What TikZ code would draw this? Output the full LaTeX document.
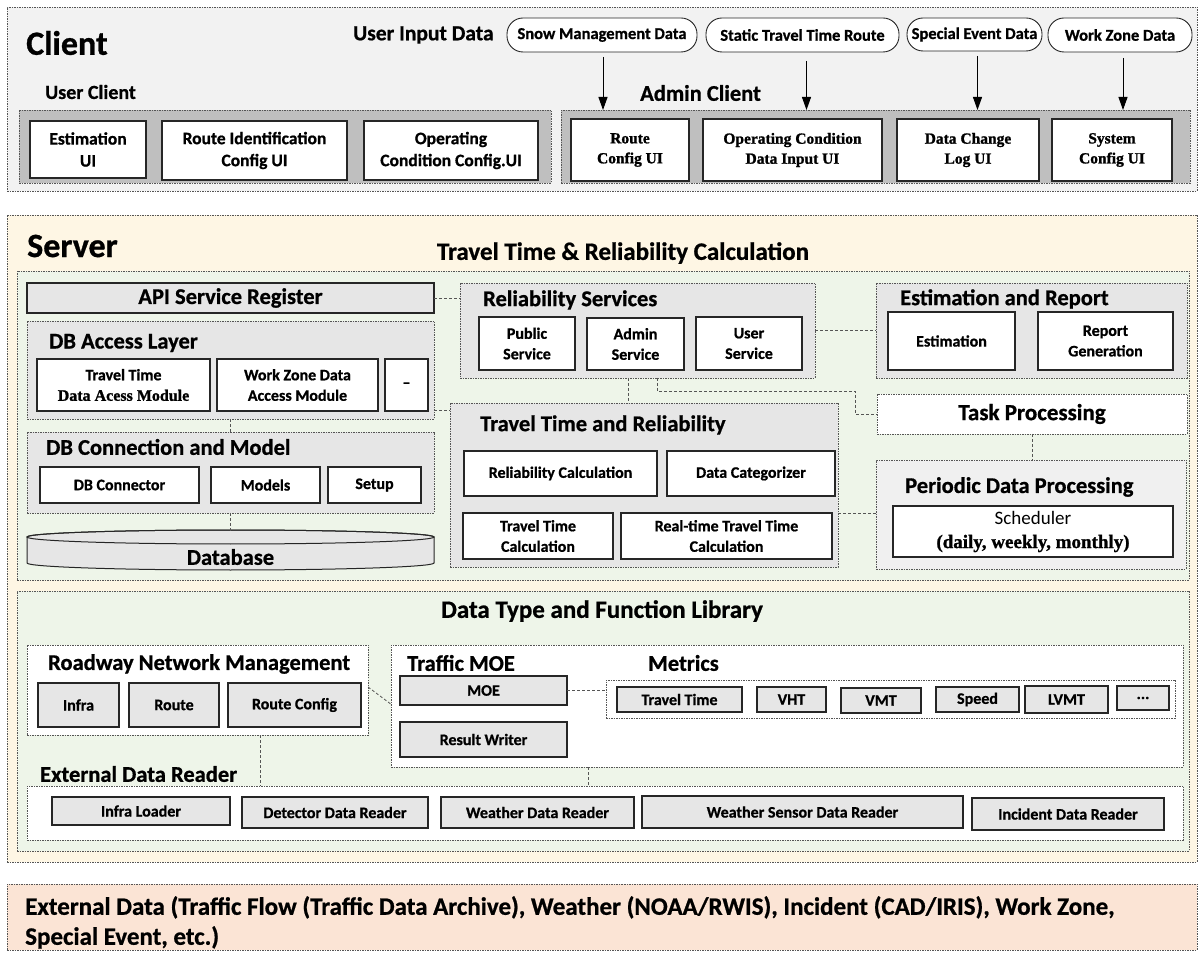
\documentclass[tikz,border=0pt]{standalone}
\usepackage{fontspec}
\setmainfont{Carlito}[BoldFeatures={FakeBold=0.8}]
\newfontfamily\tms{Liberation Serif}[BoldFeatures={FakeBold=1.2}]
\usetikzlibrary{arrows.meta,calc}

\definecolor{clientbg}{HTML}{F2F2F2}
\definecolor{midgray}{HTML}{BFBFBF}
\definecolor{servbg}{HTML}{FEF6E4}
\definecolor{greenbg}{HTML}{EEF5E9}
\definecolor{panel}{HTML}{E6E6E6}
\definecolor{panellt}{HTML}{F0F0F0}
\definecolor{extbg}{HTML}{FBE4D5}
\definecolor{edge}{HTML}{555555}

\newcommand\setfs[2]{\fontsize{#1}{#2}\selectfont}
% \boxat{name}{style}{x1}{y1}{x2}{y2}{text}: a box given by its corners
\newcommand\boxat[7]{%
  \node[#2,minimum width={#5-#3},minimum height={#6-#4}] (#1)
    at ({(#3+#5)/2},{(#4+#6)/2}) {#7};}

\tikzset{
  frame/.style={draw=edge,line width=0.7pt,dash pattern=on 1.5pt off 1pt,
    inner sep=0pt,outer sep=0pt},
  whitebox/.style={draw=black!85,line width=1.1pt,fill=white,inner sep=1pt,
    outer sep=0pt,align=center,font={\bfseries\setfs{16}{20.5}}},
  graybox/.style={whitebox,fill=panel},
  uibox/.style={whitebox,font={\bfseries\setfs{17.5}{22}}},
  serifbox/.style={whitebox,font={\tms\bfseries\setfs{15.5}{20}}},
  oval/.style={draw=black!85,line width=0.9pt,fill=white,rounded corners=16pt,
    inner sep=0pt,outer sep=0pt,font={\bfseries\setfs{16.5}{19}}},
  title/.style={anchor=west,inner sep=0pt,font={\bfseries\setfs{22.5}{26}}},
  bigtitle/.style={anchor=west,inner sep=0pt,font={\bfseries\setfs{34}{38}}},
  midtitle/.style={inner sep=0pt,font={\bfseries\setfs{25}{29}}},
  conn/.style={draw=edge,line width=0.8pt,dash pattern=on 3pt off 2pt},
  arr/.style={line width=1pt,-{Triangle[length=13pt,width=9pt]}},
}

\begin{document}
\begin{tikzpicture}[x=1pt,y=-1pt]
\useasboundingbox (0,0) rectangle (1203,957);

% ---------------- Client ----------------
\boxat{client}{frame,fill=clientbg}{7}{7}{1197}{191}{}
\node[bigtitle] (clienttitle) at (26,43) {Client};
\node[title,font={\bfseries\setfs{21.5}{25}}] (uidtitle) at (353,35) {User Input Data};

\boxat{snow}{oval}{507}{18}{697}{52}{Snow Management Data}
\boxat{static}{oval}{706}{18}{899}{52}{Static Travel Time Route}
\boxat{special}{oval}{907}{18}{1042}{51}{Special Event Data}
\boxat{wzdata}{oval}{1048}{18}{1192}{52}{Work Zone Data}

\node[title,font={\bfseries\setfs{20}{24}}] (uctitle) at (45,92) {User Client};
\node[title] (actitle) at (640,93) {Admin Client};

\boxat{uc}{frame,fill=midgray}{19}{110}{551}{183}{}
\boxat{ac}{frame,fill=midgray}{561}{110}{1190}{183}{}

\boxat{estui}{uibox}{30}{121}{146}{178}{Estimation\\UI}
\boxat{ridui}{uibox}{162}{121}{347}{180}{Route Identification\\Config UI}
\boxat{ocui}{uibox}{364}{121}{538}{180}{Operating\\Condition Config.UI}

\boxat{rcui}{serifbox}{571}{119}{689}{181}{Route\\Config UI}
\boxat{ocdui}{serifbox}{703}{119}{882}{181}{Operating Condition\\Data Input UI}
\boxat{dclui}{serifbox}{897}{119}{1039}{181}{Data Change\\Log UI}
\boxat{scui}{serifbox}{1052}{119}{1172}{181}{System\\Config UI}

\draw[arr] ($(snow.south)+(1,5)$) coordinate (s1) -- (s1 |- ac.north);
\draw[arr] ($(static.south)+(4,9)$) coordinate (s2) -- (s2 |- ac.north);
\draw[arr] ($(special.south)+(3,5)$) coordinate (s3) -- (s3 |- ac.north);
\draw[arr] ($(wzdata.south)+(3,6)$) coordinate (s4) -- (s4 |- ac.north);

% ---------------- Server ----------------
\boxat{server}{frame,fill=servbg}{7}{215}{1197}{862}{}
\node[bigtitle] (servertitle) at (27,246) {Server};
\node[midtitle] (ttrctitle) at (623,253) {Travel Time \& Reliability Calculation};

\boxat{calc}{frame,fill=greenbg}{17}{271}{1189}{580}{}

\boxat{apisr}{graybox,font={\bfseries\setfs{22.5}{26}}}{27}{283}{434}{313}{API Service Register}

\boxat{dbal}{frame,fill=panel}{27}{321}{434}{419}{}
\node[title] (dbaltitle) at (49,343) {DB Access Layer};
\boxat{ttdam}{whitebox}{37}{359}{210}{411}{Travel Time\\{\tms Data Acess Module}}
\boxat{wzdam}{whitebox}{217}{359}{378}{411}{Work Zone Data\\Access Module}
\boxat{more}{whitebox}{385}{359}{428}{411}{\textendash}

\boxat{dbcm}{frame,fill=panel}{27}{432}{434}{513}{}
\node[title] (dbcmtitle) at (46,447) {DB Connection and Model};
\boxat{dbconn}{whitebox}{40}{467}{199}{503}{DB Connector}
\boxat{models}{whitebox}{211}{467}{320}{503}{Models}
\boxat{setup}{whitebox}{328}{467}{421}{503}{Setup}

% database cylinder
\draw[fill=panel,draw=black!85,line width=1pt]
  (27,537) -- (27,563) arc[start angle=180,end angle=360,x radius=203.5pt,y radius=7pt]
  -- (434,537) arc[start angle=0,end angle=180,x radius=203.5pt,y radius=7pt] -- cycle;
\draw[draw=black!85,line width=1pt] (230.5,537) ellipse[x radius=203.5pt,y radius=7pt];
\coordinate (dbtop) at (230.5,530);
\node[inner sep=0pt,font={\bfseries\setfs{22.5}{26}}] (db) at (230.5,557) {Database};

\boxat{relsvc}{frame,fill=panel}{460}{283}{815}{378}{}
\node[title] (relsvctitle) at (483,300) {Reliability Services};
\boxat{pubs}{whitebox}{479}{317}{575}{370}{Public\\Service}
\boxat{adms}{whitebox}{587}{318}{684}{370}{Admin\\Service}
\boxat{usrs}{whitebox}{696}{317}{802}{370}{User\\Service}

\boxat{ttr}{frame,fill=panel}{450}{403}{838}{567}{}
\node[title] (ttrtitle) at (480,425) {Travel Time and Reliability};
\boxat{relcalc}{whitebox}{464}{451}{657}{496}{Reliability Calculation}
\boxat{datacat}{whitebox}{667}{451}{835}{496}{Data Categorizer}
\boxat{ttcalc}{whitebox}{463}{513}{613}{559}{Travel Time\\Calculation}
\boxat{rtcalc}{whitebox}{621}{513}{832}{559}{Real-time Travel Time\\Calculation}

\boxat{er}{frame,fill=panel}{876}{283}{1187}{378}{}
\node[title] (ertitle) at (900,299) {Estimation and Report};
\boxat{est}{whitebox}{888}{312}{1015}{370}{Estimation}
\boxat{repgen}{whitebox}{1038}{312}{1173}{370}{Report\\Generation}

\boxat{task}{frame,fill=white,font={\bfseries\setfs{23}{27}}}{877}{394}{1187}{434}{Task Processing}

\boxat{pdp}{frame,fill=panellt}{876}{460}{1186}{569}{}
\node[title] (pdptitle) at (905,487) {Periodic Data Processing};
\boxat{sched}{whitebox,font={\setfs{19}{24}}}{893}{506}{1173}{557}{Scheduler\\{\tms\bfseries(daily, weekly, monthly)}}

% connectors of the calculation layer
\draw[conn] (apisr.east) -- (apisr.east -| relsvc.west);
\draw[conn] ($(dbal.south east)+(0,-9)$) coordinate (c1) -- (c1 -| ttr.west);
\draw[conn] (dbal.south) -- (dbcm.north);
\draw[conn] (dbcm.south) -- (dbtop);
\draw[conn] ($(relsvc.south west)+(168,0)$) coordinate (c2) -- (c2 |- ttr.north);
\draw[conn] ($(relsvc.south west)+(197,0)$) |- ($(task.west)+(-22,-23)$) |- (task.west);
\draw[conn] (relsvc.east) -- (er.west);
\draw[conn] (task.south) -- (task.south |- pdp.north);
\draw[conn] ($(ttr.east)+(0,28)$) coordinate (c3) -- (c3 -| pdp.west);

% ---------------- Data type and function library ----------------
\boxat{lib}{frame,fill=greenbg}{17}{591}{1189}{851}{}
\node[midtitle] (libtitle) at (602,611) {Data Type and Function Library};

\boxat{rnm}{frame,fill=white}{27}{645}{368}{735}{}
\node[title] (rnmtitle) at (48,664) {Roadway Network Management};
\boxat{infra}{graybox}{38}{683}{119}{727}{Infra}
\boxat{route}{graybox}{129}{683}{219}{727}{Route}
\boxat{rcfg}{graybox}{228}{683}{361}{727}{Route Config}

\boxat{tmoe}{frame,fill=white}{391}{645}{1183}{767}{}
\node[title] (tmoetitle) at (407,663) {Traffic MOE};
\boxat{moe}{graybox}{400}{676}{567}{705}{MOE}
\boxat{rw}{graybox}{400}{722}{567}{757}{Result Writer}

\node[title] (metricstitle) at (648,663) {Metrics};
\boxat{metrics}{frame,fill=white}{606}{680}{1175}{718}{}
\boxat{mtt}{graybox}{617}{687}{742}{712}{Travel Time}
\boxat{mvht}{graybox}{757}{687}{826}{712}{VHT}
\boxat{mvmt}{graybox}{841}{688}{921}{713}{VMT}
\boxat{mspd}{graybox}{936}{687}{1019}{712}{Speed}
\boxat{mlvmt}{graybox}{1025}{686}{1108}{713}{LVMT}
\boxat{mmore}{graybox}{1117}{686}{1169}{710}{...}

\node[title] (edrtitle) at (40,774) {External Data Reader};
\boxat{edr}{frame,fill=white}{27}{786}{1183}{840}{}
\boxat{il}{graybox}{52}{797}{230}{825}{Infra Loader}
\boxat{ddr}{graybox}{242}{797}{428}{828}{Detector Data Reader}
\boxat{wdr}{graybox}{441}{797}{634}{828}{Weather Data Reader}
\boxat{wsdr}{graybox}{642}{796}{963}{828}{Weather Sensor Data Reader}
\boxat{idr}{graybox}{972}{798}{1164}{830}{Incident Data Reader}

\draw[conn] ($(rnm.north east)+(0,42)$) -- ($(tmoe.north west)+(1,60)$);
\draw[conn] (moe.east) -- (moe.east -| metrics.west);
\draw[conn] ($(rnm.south west)+(233,0)$) coordinate (c4) -- (c4 |- edr.north);
\draw[conn] ($(tmoe.south west)+(197,0)$) coordinate (c5) -- (c5 |- edr.north);

% ---------------- External data ----------------
\boxat{ext}{frame,fill=extbg}{7}{884}{1197}{950}{}
\node[anchor=north west,inner sep=0pt,align=left,font={\bfseries\setfs{25}{30}}] (exttext) at (25,896)
  {External Data (Traffic Flow (Traffic Data Archive), Weather (NOAA/RWIS), Incident (CAD/IRIS), Work Zone,\\
   Special Event, etc.)};

\end{tikzpicture}
\end{document}
